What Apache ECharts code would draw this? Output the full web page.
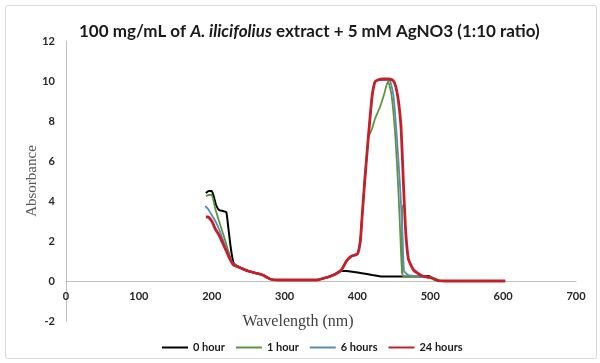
<!DOCTYPE html>
<html>
<head>
<meta charset="utf-8">
<script src="https://cdn.jsdelivr.net/npm/echarts@6/dist/echarts.min.js"></script>
<style>html,body{margin:0;padding:0;background:#fff}#c{width:600px;height:363px}</style>
</head>
<body>
<div id="c"></div>
<script>
// ---- data ----
const seriesNames = ['0 hour', '1 hour', '6 hours', '24 hours'];
const xTicks = [0, 100, 200, 300, 400, 500, 600, 700];
const yTicks = [-2, 0, 2, 4, 6, 8, 10, 12];

const wl0h = [192,196,200,203,206,210,215,220,223,226,230,240,250,260,270,280,290,345,350,360,370,378,385,395,406,420,434,450,461,480,498,505,512,520];
const abs0h = [4.4,4.5,4.5,4.2,3.8,3.55,3.5,3.45,2.6,1.7,0.9,0.65,0.5,0.4,0.3,0.1,0.05,0.05,0.1,0.2,0.35,0.5,0.5,0.45,0.39,0.3,0.22,0.22,0.22,0.22,0.25,0.08,0.0,0.0];

const wl1h = [192,196,200,205,210,217,222,228,240,250,260,270,280,290,345,350,360,370,378,385,392,400,404,406,410,415,420,424,431,436,442,447,452,456,459,461,461.3,462,480,500,510];
const abs1h = [4.25,4.3,4.3,3.6,3.0,2.2,1.6,0.95,0.65,0.5,0.4,0.3,0.1,0.05,0.05,0.1,0.2,0.35,0.55,1.0,1.25,1.35,2.0,3.0,5.0,7.2,7.6,8.1,8.7,9.26,10.0,9.26,7.25,4.7,2.2,0.35,3.8,0.25,0.22,0.22,0.0];

const wl6h = [191,195,200,205,210,215,220,225,230,240,250,260,270,280,290,345,350,360,370,378,385,392,400,404,406,410,415,420,424,430,440,445,449.5,454,458.6,462,464,470,490,505,512];
const abs6h = [3.75,3.6,3.3,3.0,2.6,2.1,1.6,1.1,0.8,0.65,0.5,0.4,0.3,0.1,0.05,0.05,0.1,0.2,0.35,0.55,1.0,1.25,1.35,2.0,3.0,5.0,7.2,9.2,9.95,10.05,10.05,10.0,9.26,7.25,4.7,2.2,0.5,0.3,0.22,0.1,0.0];

const wl24h = [192,195,200,205,210,215,220,225,230,240,250,260,270,280,290,300,320,345,350,360,370,378,385,392,400,404,406,410,415,420,424,428,435,442,448,451,454,457,460,463,466,470,477,489,503,512,520,560,603];
const abs24h = [3.2,3.2,3.0,2.6,2.3,1.9,1.5,1.1,0.8,0.65,0.5,0.4,0.3,0.1,0.05,0.05,0.05,0.05,0.1,0.2,0.35,0.55,1.0,1.25,1.35,2.0,3.0,5.0,7.2,9.2,9.95,10.05,10.1,10.1,10.05,9.9,9.5,8.8,7.6,5.0,2.6,1.1,0.55,0.25,0.15,0.02,0,0,0];

const colors = ['#000000', '#5e9440', '#5b8db0', '#c4202c'];
const widths = [2, 1.8, 1.8, 2.8];

function pairs(xs, ys) { return xs.map((x, i) => [x, ys[i]]); }
const allData = [pairs(wl0h, abs0h), pairs(wl1h, abs1h), pairs(wl6h, abs6h), pairs(wl24h, abs24h)];

const GRID_TOP = 41, GRID_BOTTOM = 42, H = 363;
const plotH = H - GRID_TOP - GRID_BOTTOM;
// pixel distance from the bottom of the plot up to the value 0 (axis crossing)
const zeroOffset = -plotH * (0 - yTicks[0]) / (yTicks[yTicks.length - 1] - yTicks[0]);

const chart = echarts.init(document.getElementById('c'), null, { renderer: 'canvas' });
const labelFont = { fontFamily: 'Lato', fontWeight: 'bold', fontSize: 11, color: '#262626' };

chart.setOption({
  animation: false,
  backgroundColor: '#ffffff',
  title: {
    text: '{n|100 mg/mL of }{i|A. ilicifolius}{n| extract + 5 mM AgNO3 (1:10 ratio)}',
    left: 74, top: 17,
    textStyle: {
      rich: {
        n: { fontFamily: 'Lato', fontSize: 17, color: '#1a1a1a', lineHeight: 20 },
        i: { fontFamily: 'Lato', fontSize: 17, fontStyle: 'italic', color: '#1a1a1a', lineHeight: 20 }
      }
    }
  },
  graphic: [{
    type: 'rect', shape: { x: 5.5, y: 5.5, width: 591, height: 353, r: 2 },
    style: { fill: 'none', stroke: '#d9d9d9', lineWidth: 1 }, silent: true, z: -1
  }],
  legend: {
    data: seriesNames,
    left: 157, top: 337,
    icon: 'rect', itemWidth: 26, itemHeight: 2, itemGap: 11,
    textStyle: Object.assign({}, labelFont, { color: '#1a1a1a' })
  },
  grid: { left: 66, right: 24, top: GRID_TOP, bottom: GRID_BOTTOM, containLabel: false, outerBoundsMode: 'none' },
  xAxis: {
    type: 'value', min: xTicks[0], max: xTicks[xTicks.length - 1], interval: 100,
    position: 'bottom', offset: zeroOffset,
    name: 'Wavelength (nm)', nameLocation: 'middle', nameGap: 33,
    nameTextStyle: { fontFamily: 'Liberation Serif', fontSize: 16, color: '#404040', padding: [0, 46, 0, 0] },
    axisLine: { onZero: false, lineStyle: { color: '#c0c0c0', width: 1 } },
    axisTick: { show: false },
    splitLine: { show: false },
    axisLabel: Object.assign({ margin: 10 }, labelFont)
  },
  yAxis: {
    type: 'value', min: yTicks[0], max: yTicks[yTicks.length - 1], interval: 2,
    name: 'Absorbance', nameLocation: 'middle', nameGap: 26, nameMoveOverlap: false,
    nameTextStyle: { fontFamily: 'Liberation Serif', fontSize: 15, color: '#595959' },
    axisLine: { show: true, onZero: false, lineStyle: { color: '#c0c0c0', width: 1 } },
    axisTick: { show: false },
    splitLine: { show: false },
    axisLabel: Object.assign({ margin: 11 }, labelFont)
  },
  series: seriesNames.map((n, i) => ({
    name: n, type: 'line', data: allData[i], showSymbol: false, smooth: 0.15,
    lineStyle: { color: colors[i], width: widths[i] }, itemStyle: { color: colors[i] },
    z: 2 + i
  }))
});
</script>
</body>
</html>
